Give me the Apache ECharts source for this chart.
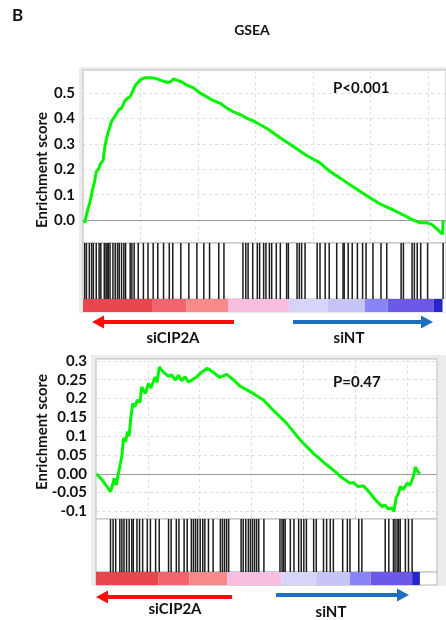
<!DOCTYPE html>
<html>
<head>
<meta charset="utf-8">
<title>GSEA</title>
<script src="https://cdn.jsdelivr.net/npm/echarts@6/dist/echarts.min.js"></script>
<style>
  html, body { margin: 0; padding: 0; background: #fff; }
  #chart { width: 446px; height: 620px; }
</style>
</head>
<body>
<div id="chart"></div>
<script>
// running enrichment score: [rank position, ES]
const topES = [
  [0.02, 0.0], [0.03, -0.01], [0.07, 0.03], [0.12, 0.07], [0.15, 0.1], [0.17, 0.125],
  [0.2, 0.15], [0.23, 0.19], [0.27, 0.2], [0.3, 0.22], [0.33, 0.225], [0.35, 0.235],
  [0.38, 0.29], [0.43, 0.34], [0.46, 0.36], [0.49, 0.385], [0.53, 0.4], [0.56, 0.41],
  [0.6, 0.425], [0.63, 0.435], [0.67, 0.44], [0.7, 0.44], [0.73, 0.47], [0.78, 0.48],
  [0.82, 0.485], [0.85, 0.5], [0.87, 0.505], [0.91, 0.53], [0.94, 0.53], [0.99, 0.55],
  [1.03, 0.555], [1.08, 0.56], [1.17, 0.56], [1.25, 0.558], [1.34, 0.55], [1.42, 0.545],
  [1.48, 0.54], [1.53, 0.545], [1.57, 0.555], [1.63, 0.55], [1.7, 0.545], [1.81, 0.53],
  [1.92, 0.52], [2.03, 0.5], [2.15, 0.485], [2.26, 0.47], [2.38, 0.46], [2.5, 0.44],
  [2.62, 0.425], [2.73, 0.415], [2.85, 0.4], [2.96, 0.39], [3.08, 0.375], [3.2, 0.36],
  [3.42, 0.325], [3.65, 0.29], [3.88, 0.255], [4.12, 0.225], [4.3, 0.19], [4.47, 0.165],
  [4.7, 0.13], [4.94, 0.095], [5.15, 0.065], [5.39, 0.04], [5.57, 0.02], [5.74, 0.0],
  [5.85, -0.01], [5.98, -0.01], [6.08, -0.02], [6.21, -0.047], [6.25, -0.055], [6.26, 0.0]
];
const bottomES = [
  [0.01, 0.0], [0.14, -0.02], [0.28, -0.047], [0.33, -0.025], [0.35, -0.012], [0.39, -0.03],
  [0.43, 0.0], [0.46, -0.003], [0.5, 0.048], [0.53, 0.095], [0.57, 0.085], [0.61, 0.112],
  [0.64, 0.1], [0.67, 0.147], [0.71, 0.187], [0.75, 0.178], [0.8, 0.196], [0.85, 0.19],
  [0.88, 0.231], [0.95, 0.213], [1.01, 0.24], [1.06, 0.228], [1.14, 0.257], [1.18, 0.243],
  [1.22, 0.284], [1.3, 0.27], [1.4, 0.259], [1.46, 0.263], [1.53, 0.249], [1.59, 0.262],
  [1.65, 0.247], [1.72, 0.258], [1.78, 0.244], [1.85, 0.249], [1.94, 0.257], [2.04, 0.27],
  [2.14, 0.28], [2.2, 0.276], [2.26, 0.27], [2.39, 0.256], [2.52, 0.264], [2.65, 0.25],
  [2.78, 0.233], [3.04, 0.213], [3.23, 0.196], [3.42, 0.169], [3.68, 0.134], [3.94, 0.09],
  [4.19, 0.055], [4.45, 0.024], [4.65, 0.002], [4.74, -0.01], [4.83, -0.018], [4.9, -0.025],
  [4.96, -0.023], [5.06, -0.034], [5.16, -0.032], [5.25, -0.045], [5.39, -0.069], [5.52, -0.087],
  [5.58, -0.083], [5.64, -0.094], [5.71, -0.09], [5.75, -0.1], [5.79, -0.064], [5.84, -0.051],
  [5.87, -0.034], [5.93, -0.042], [6.0, -0.025], [6.06, -0.03], [6.13, -0.005], [6.16, 0.018],
  [6.21, 0.006], [6.25, 0.0]
];
// gene set hits (rank positions)
const topHits = [
  0.03, 0.06, 0.11, 0.15, 0.18, 0.23, 0.28, 0.31, 0.37, 0.4, 0.42, 0.44, 0.47, 0.52, 0.56,
  0.6, 0.63, 0.67, 0.71, 0.74, 0.82, 0.85, 0.89, 0.96, 1.05, 1.13, 1.22, 1.3, 1.4, 1.5,
  1.56, 1.7, 1.84, 1.98, 2.1, 2.2, 2.36, 2.45, 2.78, 2.83, 2.87, 2.95, 3.03, 3.07, 3.14,
  3.18, 3.24, 3.28, 3.36, 3.43, 3.54, 3.57, 3.72, 3.76, 3.8, 3.86, 4.07, 4.12, 4.21, 4.28,
  4.41, 4.52, 4.54, 4.61, 4.68, 4.77, 4.86, 4.92, 5.04, 5.18, 5.28, 5.53, 5.57, 5.72, 5.76,
  5.81, 5.87, 5.99, 6.26
];
const bottomHits = [
  0.28, 0.33, 0.38, 0.46, 0.5, 0.54, 0.59, 0.64, 0.69, 0.72, 0.79, 0.84, 0.9, 0.99, 1.05,
  1.15, 1.22, 1.4, 1.45, 1.55, 1.6, 1.7, 1.76, 1.84, 1.88, 1.92, 1.96, 2.01, 2.06, 2.1,
  2.17, 2.26, 2.4, 2.44, 2.48, 2.52, 2.56, 2.8, 2.84, 2.89, 2.94, 2.98, 3.02, 3.06, 3.1,
  3.14, 3.24, 3.55, 3.59, 3.62, 3.65, 3.75, 3.82, 3.91, 3.96, 4.01, 4.06, 4.2, 4.25, 4.39,
  4.45, 4.52, 4.58, 4.76, 4.85, 4.9, 5.07, 5.13, 5.58, 5.65, 5.74, 5.77, 5.81, 5.84, 5.87,
  5.97, 6.03, 6.1
];
// ranked list metric colour bands
const rankEdges = [0, 1.2, 1.8, 2.53, 3.58, 4.25, 4.9, 5.3, 6.1, 6.25];
const rankColors = ['#e9474d', '#f5636f', '#f7898b', '#fabde2', '#d5d5f9', '#c6c3f7', '#8886f6', '#6d59e8', '#2626cc'];

const topTicks = [0, 0.1, 0.2, 0.3, 0.4, 0.5];
const topTickLabels = ['0.0', '0.1', '0.2', '0.3', '0.4', '0.5'];
const bottomTicks = [-0.1, -0.05, 0, 0.05, 0.1, 0.15, 0.2, 0.25, 0.3];
const bottomTickLabels = ['-0.1', '-0.05', '0.00', '0.05', '0.1', '0.15', '0.2', '0.25', '0.3'];

const FONT = 'Lato';
const rankData = rankColors.map((c, i) => [rankEdges[i], rankEdges[i + 1], i]);

const chart = echarts.init(document.getElementById('chart'));

function tickFormatter(ticks, labels) {
  return (v) => {
    const i = ticks.findIndex(t => Math.abs(t - v) < 1e-6);
    return i >= 0 ? labels[i] : '';
  };
}

function hitItem(params, api) {
  const x = api.value(0);
  const p0 = api.coord([x, 0]);
  const p1 = api.coord([x, 1]);
  return {
    type: 'line',
    shape: { x1: p0[0], y1: p0[1], x2: p1[0], y2: p1[1] },
    style: { stroke: '#1c1c1c', lineWidth: 1.5 }
  };
}

function rankItem(params, api) {
  const a = api.coord([api.value(0), 1]);
  const b = api.coord([api.value(1), 0]);
  return {
    type: 'rect',
    shape: { x: a[0], y: a[1], width: b[0] - a[0], height: b[1] - a[1] },
    style: { fill: rankColors[api.value(2)] }
  };
}

const gridBase = { show: true, backgroundColor: '#fff', borderColor: '#b8b8b8', borderWidth: 1 };
const grids = [
  { ...gridBase, left: 83, top: 70, width: 363, height: 173 },
  { ...gridBase, left: 83, top: 243, width: 363, height: 56 },
  { ...gridBase, left: 83, top: 299, width: 363, height: 13, borderWidth: 0 },
  { ...gridBase, left: 96, top: 359, width: 341, height: 160 },
  { ...gridBase, left: 96, top: 519, width: 341, height: 53 },
  { ...gridBase, left: 96, top: 572, width: 341, height: 13 }
];

const xMax = [6.31, 6.31, 6.31, 6.58, 6.58, 6.58];
const xAxes = xMax.map((m, i) => ({
  type: 'value', gridIndex: i, min: 0, max: m, interval: 1,
  axisLine: { show: false }, axisTick: { show: false }, axisLabel: { show: false },
  splitLine: { show: i === 0 || i === 3, lineStyle: { color: '#dedede', type: [3, 3] } }
}));

const labelStyle = { fontFamily: FONT, fontWeight: 'bold', fontSize: 15, color: '#111', margin: 8 };
const splitStyle = { show: true, lineStyle: { color: '#dedede', type: [3, 3] } };
const hiddenY = (i) => ({ type: 'value', gridIndex: i, min: 0, max: 1, show: false, splitLine: { show: false } });
const yAxes = [
  {
    type: 'value', gridIndex: 0, min: -0.09, max: 0.59,
    axisLine: { show: false }, axisTick: { show: false, customValues: topTicks },
    axisLabel: { ...labelStyle, customValues: topTicks, formatter: tickFormatter(topTicks, topTickLabels) },
    splitLine: splitStyle
  },
  hiddenY(1), hiddenY(2),
  {
    type: 'value', gridIndex: 3, min: -0.12, max: 0.305,
    axisLine: { show: false }, axisTick: { show: false, customValues: bottomTicks },
    axisLabel: { ...labelStyle, margin: 9, customValues: bottomTicks, formatter: tickFormatter(bottomTicks, bottomTickLabels) },
    splitLine: splitStyle
  },
  hiddenY(4), hiddenY(5)
];

const zeroLine = {
  silent: true, symbol: 'none', label: { show: false },
  lineStyle: { color: '#9a9a9a', type: 'solid', width: 1 },
  data: [{ yAxis: 0 }]
};

function esSeries(data, idx) {
  return {
    type: 'line', xAxisIndex: idx, yAxisIndex: idx, data: data,
    showSymbol: false, z: 5,
    lineStyle: { color: '#00f400', width: 3 },
    markLine: { ...zeroLine, z: 1 }
  };
}

const text = (x, y, s, size, extra) => ({
  type: 'text', x: x, y: y, z: 20,
  style: { text: s, fontFamily: FONT, fontWeight: 'bold', fontSize: size, fill: '#111', align: 'center', verticalAlign: 'middle', ...extra }
});

function arrow(x1, x2, y, color) {
  // x1 = tail, x2 = tip
  const dir = x2 > x1 ? 1 : -1;
  const base = x2 - dir * 12;
  return [
    { type: 'rect', z: 20, shape: { x: Math.min(x1, base), y: y - 2, width: Math.abs(base - x1), height: 4 }, style: { fill: color } },
    { type: 'polygon', z: 20, shape: { points: [[x2, y], [base, y - 6.5], [base, y + 6.5]] }, style: { fill: color } }
  ];
}

const RED = '#ff0b0b', BLUE = '#1c6fc1';

chart.setOption({
  animation: false,
  backgroundColor: '#fff',
  grid: grids,
  xAxis: xAxes,
  yAxis: yAxes,
  series: [
    esSeries(topES, 0),
    { type: 'custom', xAxisIndex: 1, yAxisIndex: 1, data: topHits.map(v => [v]), renderItem: hitItem, encode: { x: 0 } },
    { type: 'custom', xAxisIndex: 2, yAxisIndex: 2, data: rankData, renderItem: rankItem, encode: { x: [0, 1] } },
    esSeries(bottomES, 3),
    { type: 'custom', xAxisIndex: 4, yAxisIndex: 4, data: bottomHits.map(v => [v]), renderItem: hitItem, encode: { x: 0 } },
    { type: 'custom', xAxisIndex: 5, yAxisIndex: 5, data: rankData, renderItem: rankItem, encode: { x: [0, 1] } }
  ],
  graphic: [
    { type: 'rect', z: -10, shape: { x: 79, y: 67, width: 370, height: 246 }, style: { fill: '#ececec' } },
    { type: 'rect', z: -10, shape: { x: 91, y: 355, width: 358, height: 231 }, style: { fill: '#ececec' } },
    text(12, 16, 'B', 17, { align: 'left' }),
    text(252, 30, 'GSEA', 14),
    text(333, 88, 'P<0.001', 15, { align: 'left' }),
    text(333, 382, 'P=0.47', 15, { align: 'left' }),
    { ...text(42, 170, 'Enrichment score', 15), rotation: Math.PI / 2 },
    { ...text(42, 432, 'Enrichment score', 15), rotation: Math.PI / 2 },
    text(173, 338, 'siCIP2A', 15),
    text(349, 338, 'siNT', 15),
    text(175, 609, 'siCIP2A', 15),
    text(331, 612, 'siNT', 15),
    ...arrow(234, 92, 322, RED),
    ...arrow(293, 433, 322, BLUE),
    ...arrow(232, 96, 597, RED),
    ...arrow(276, 409, 595, BLUE)
  ]
});
</script>
</body>
</html>
